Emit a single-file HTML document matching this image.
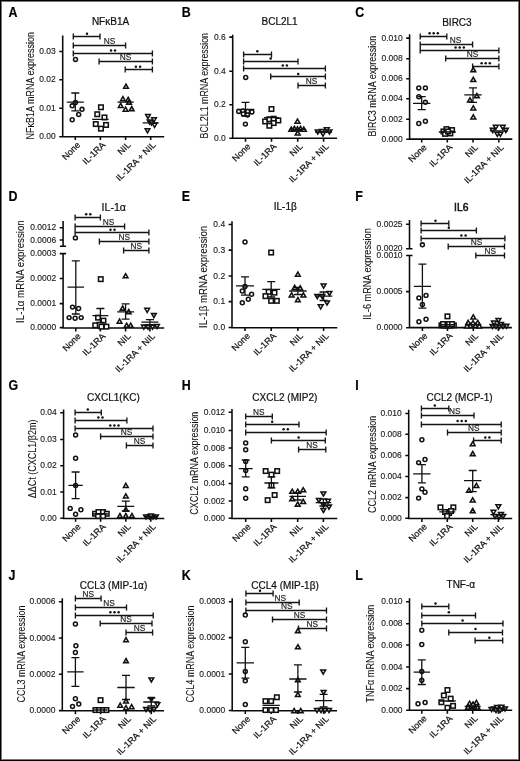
<!DOCTYPE html>
<html><head><meta charset="utf-8"><style>
html,body{margin:0;padding:0;background:#fff;}
svg{display:block;will-change:transform;}
text{font-family:"Liberation Sans", sans-serif;fill:#111;stroke:#111;stroke-width:0.22px;}
.let{font-weight:bold;font-size:13.8px;fill:#000;}
.tit{font-size:10px;}
.tick{font-size:8.5px;fill:#222;stroke:#222;stroke-width:0.14px;}
.yt{font-size:10.3px;stroke-width:0.08px;}
.xl{font-size:9.05px;}
.ns{font-size:8.3px;fill:#1a1a1a;stroke:#1a1a1a;stroke-width:0.15px;}
.st{fill:#111;}
.axis{stroke:#0a0a0a;stroke-width:1.55;fill:none;}
.sig{stroke:#151515;stroke-width:1.35;fill:none;}
.mean{stroke:#111;stroke-width:1.3;fill:none;}
.m{fill:#fff;stroke:#111;stroke-width:1.55;}
</style></head><body>
<svg width="520" height="761" viewBox="0 0 520 761">
<rect x="0.5" y="0.5" width="519" height="760" fill="none" stroke="#000" stroke-width="1"/><rect x="1.5" y="1.5" width="517" height="758" fill="none" stroke="#777" stroke-width="1"/>
<text transform="translate(8.5,16.9) scale(0.9,1)" class="let">A</text>
<text transform="translate(110.5,25.2) scale(1,1.0)" class="tit" text-anchor="middle">NFκB1A</text>
<path d="M62.7 35.6V136.7H164.2M59.300000000000004 51.5H62.7M59.300000000000004 79.8H62.7M59.300000000000004 108.2H62.7M59.300000000000004 136.7H62.7M75.3 136.7V140.1M100.4 136.7V140.1M125.6 136.7V140.1M150.7 136.7V140.1" class="axis"/>
<text transform="translate(55.80,54.10) scale(1,0.98)" class="tick" text-anchor="end">0.03</text>
<text transform="translate(55.80,82.40) scale(1,0.98)" class="tick" text-anchor="end">0.02</text>
<text transform="translate(55.80,110.80) scale(1,0.98)" class="tick" text-anchor="end">0.01</text>
<text transform="translate(55.80,139.30) scale(1,0.98)" class="tick" text-anchor="end">0.00</text>
<text transform="translate(34.1,85.8) rotate(-90)" class="yt" text-anchor="middle" textLength="107.4" lengthAdjust="spacingAndGlyphs">NFκB1A mRNA expression</text>
<text transform="translate(80.9,145.5) scale(1,0.98) rotate(-45)" class="xl" text-anchor="end">None</text>
<text transform="translate(106.0,145.5) scale(1,0.98) rotate(-45)" class="xl" text-anchor="end">IL-1RA</text>
<text transform="translate(131.2,145.5) scale(1,0.98) rotate(-45)" class="xl" text-anchor="end">NIL</text>
<text transform="translate(156.3,145.5) scale(1,0.98) rotate(-45)" class="xl" text-anchor="end">IL-1RA + NIL</text>
<path d="M73.3 33.4V39.6M73.3 36.5H100M100 33.4V39.6M73.3 42.4V48.6M73.3 45.5H125.6M125.6 42.4V48.6M73.3 50.4V56.6M73.3 53.5H152.4M152.4 50.4V56.6M99.1 58.4V64.6M99.1 61.5H152.4M152.4 58.4V64.6M125.2 66.4V72.6M125.2 69.5H152.4M152.4 66.4V72.6" class="sig"/>
<circle cx="87.0" cy="33.7" r="1.25" class="st"/>
<text transform="translate(109.5,44.3) scale(1,1.0)" class="ns" text-anchor="middle">NS</text>
<circle cx="111.0" cy="50.4" r="1.25" class="st"/>
<circle cx="115.0" cy="50.4" r="1.25" class="st"/>
<text transform="translate(125.6,60.3) scale(1,1.0)" class="ns" text-anchor="middle">NS</text>
<circle cx="135.9" cy="66.8" r="1.25" class="st"/>
<circle cx="140.1" cy="66.8" r="1.25" class="st"/>
<g class="m"><circle cx="75.5" cy="59.4" r="1.95"/><circle cx="75.5" cy="102.5" r="1.95"/><circle cx="72.2" cy="105.8" r="1.95"/><circle cx="82.0" cy="109.3" r="1.95"/><circle cx="78.7" cy="114.5" r="1.95"/><circle cx="72.2" cy="119.7" r="1.95"/><rect x="98.7" y="105.0" width="4.5" height="4.5"/><rect x="95.0" y="112.0" width="4.5" height="4.5"/><rect x="102.2" y="115.2" width="4.5" height="4.5"/><rect x="93.5" y="121.8" width="4.5" height="4.5"/><rect x="103.8" y="122.7" width="4.5" height="4.5"/><rect x="98.7" y="126.4" width="4.5" height="4.5"/><path d="M126.0 84.2L128.3 88.3H123.7Z"/><path d="M122.9 96.7L125.2 100.8H120.6Z"/><path d="M128.2 97.3L130.5 101.4H125.8Z"/><path d="M129.0 100.0L131.3 104.1H126.7Z"/><path d="M120.7 103.3L123.0 107.4H118.4Z"/><path d="M125.6 107.1L127.9 111.2H123.2Z"/><path d="M131.7 106.5L134.0 110.6H129.3Z"/><path d="M148.0 118.6L150.3 114.5H145.7Z"/><path d="M154.0 121.9L156.3 117.8H151.7Z"/><path d="M149.7 124.1L152.0 120.0H147.3Z"/><path d="M154.6 127.4L156.9 123.3H152.2Z"/><path d="M147.5 132.8L149.8 128.7H145.2Z"/><path d="M151.5 125.0L153.8 120.9H149.2Z"/></g>
<path d="M66.8 102.2H83.8M75.3 93V110.8M71.3 93H79.3M71.3 110.8H79.3M92.2 119.4H108.60000000000001M117.39999999999999 102.2H133.79999999999998M142.7 122.9H158.7" class="mean"/>
<text transform="translate(181.8,16.9) scale(0.9,1)" class="let">B</text>
<text transform="translate(279.6,25.1) scale(1,1.0)" class="tit" text-anchor="middle">BCL2L1</text>
<path d="M232.7 34.8V138.3H337.1M229.29999999999998 37.1H232.7M229.29999999999998 71.2H232.7M229.29999999999998 104.7H232.7M229.29999999999998 138.3H232.7M245.5 138.3V141.70000000000002M271.5 138.3V141.70000000000002M297.7 138.3V141.70000000000002M323.6 138.3V141.70000000000002" class="axis"/>
<text transform="translate(225.80,39.70) scale(1,0.98)" class="tick" text-anchor="end">0.6</text>
<text transform="translate(225.80,73.80) scale(1,0.98)" class="tick" text-anchor="end">0.4</text>
<text transform="translate(225.80,107.30) scale(1,0.98)" class="tick" text-anchor="end">0.2</text>
<text transform="translate(225.80,140.90) scale(1,0.98)" class="tick" text-anchor="end">0.0</text>
<text transform="translate(207.6,85.7) rotate(-90)" class="yt" text-anchor="middle" textLength="105.5" lengthAdjust="spacingAndGlyphs">BCL2L1 mRNA expression</text>
<text transform="translate(251.1,147.1) scale(1,0.98) rotate(-45)" class="xl" text-anchor="end">None</text>
<text transform="translate(277.1,147.1) scale(1,0.98) rotate(-45)" class="xl" text-anchor="end">IL-1RA</text>
<text transform="translate(303.3,147.1) scale(1,0.98) rotate(-45)" class="xl" text-anchor="end">NIL</text>
<text transform="translate(329.2,147.1) scale(1,0.98) rotate(-45)" class="xl" text-anchor="end">IL-1RA + NIL</text>
<path d="M243.6 51.4V57.6M243.6 54.5H271.5M271.5 51.4V57.6M243.6 58.4V64.6M243.6 61.5H298M298 58.4V64.6M243.6 65.4V71.6M243.6 68.5H325.4M325.4 65.4V71.6M270.7 73.4V79.6M270.7 76.5H325.4M325.4 73.4V79.6M298 82.4V88.6M298 85.5H325.4M325.4 82.4V88.6" class="sig"/>
<circle cx="257.3" cy="51.3" r="1.25" class="st"/>
<circle cx="270.7" cy="58.5" r="1.25" class="st"/>
<circle cx="282.8" cy="65.5" r="1.25" class="st"/>
<circle cx="286.9" cy="65.5" r="1.25" class="st"/>
<circle cx="298.2" cy="73.9" r="1.25" class="st"/>
<text transform="translate(311.6,84.3) scale(1,1.0)" class="ns" text-anchor="middle">NS</text>
<g class="m"><circle cx="245.7" cy="77.4" r="1.95"/><circle cx="238.7" cy="111.4" r="1.95"/><circle cx="242.9" cy="110.9" r="1.95"/><circle cx="247.7" cy="111.4" r="1.95"/><circle cx="251.9" cy="111.9" r="1.95"/><circle cx="243.3" cy="114.0" r="1.95"/><circle cx="247.5" cy="114.9" r="1.95"/><circle cx="245.4" cy="124.1" r="1.95"/><rect x="269.2" y="106.8" width="4.5" height="4.5"/><rect x="262.9" y="119.2" width="4.5" height="4.5"/><rect x="267.1" y="117.0" width="4.5" height="4.5"/><rect x="271.4" y="116.5" width="4.5" height="4.5"/><rect x="276.1" y="118.2" width="4.5" height="4.5"/><rect x="271.4" y="120.8" width="4.5" height="4.5"/><rect x="267.1" y="123.5" width="4.5" height="4.5"/><path d="M297.5 119.1L299.9 123.2H295.1Z"/><path d="M291.3 127.1L293.7 131.2H288.9Z"/><path d="M294.4 126.4L296.8 130.5H292.0Z"/><path d="M297.5 126.8L299.9 130.9H295.1Z"/><path d="M300.6 126.4L303.0 130.5H298.2Z"/><path d="M303.8 127.1L306.2 131.2H301.4Z"/><path d="M297.7 130.8L300.1 134.9H295.3Z"/><path d="M317.8 134.0L320.2 129.9H315.4Z"/><path d="M322.0 133.5L324.4 129.4H319.6Z"/><path d="M326.8 131.9L329.2 127.8H324.4Z"/><path d="M329.4 134.0L331.8 129.9H327.0Z"/><path d="M323.0 136.1L325.4 132.0H320.6Z"/></g>
<path d="M236.7 109.3H254.3M245.5 102.4V116M241.5 102.4H249.5M241.5 116H249.5M264.0 117.7H279.0M289.2 129.4H306.2M315.1 132H332.1" class="mean"/>
<text transform="translate(355.2,16.9) scale(0.9,1)" class="let">C</text>
<text transform="translate(456.9,25.8) scale(1,1.0)" class="tit" text-anchor="middle">BIRC3</text>
<path d="M409.6 34.2V139.1H512.3M406.20000000000005 38.1H409.6M406.20000000000005 58.7H409.6M406.20000000000005 78.8H409.6M406.20000000000005 98.7H409.6M406.20000000000005 119.2H409.6M406.20000000000005 139.2H409.6M421.7 139.1V142.5M447.3 139.1V142.5M473 139.1V142.5M498.8 139.1V142.5" class="axis"/>
<text transform="translate(402.70,40.70) scale(1,0.98)" class="tick" text-anchor="end">0.010</text>
<text transform="translate(402.70,61.30) scale(1,0.98)" class="tick" text-anchor="end">0.008</text>
<text transform="translate(402.70,81.40) scale(1,0.98)" class="tick" text-anchor="end">0.006</text>
<text transform="translate(402.70,101.30) scale(1,0.98)" class="tick" text-anchor="end">0.004</text>
<text transform="translate(402.70,121.80) scale(1,0.98)" class="tick" text-anchor="end">0.002</text>
<text transform="translate(402.70,141.80) scale(1,0.98)" class="tick" text-anchor="end">0.000</text>
<text transform="translate(375.9,86.2) rotate(-90)" class="yt" text-anchor="middle" textLength="100.8" lengthAdjust="spacingAndGlyphs">BIRC3 mRNA expression</text>
<text transform="translate(427.3,147.9) scale(1,0.98) rotate(-45)" class="xl" text-anchor="end">None</text>
<text transform="translate(452.9,147.9) scale(1,0.98) rotate(-45)" class="xl" text-anchor="end">IL-1RA</text>
<text transform="translate(478.6,147.9) scale(1,0.98) rotate(-45)" class="xl" text-anchor="end">NIL</text>
<text transform="translate(504.4,147.9) scale(1,0.98) rotate(-45)" class="xl" text-anchor="end">IL-1RA + NIL</text>
<path d="M420.2 33.4V39.6M420.2 36.5H446.8M446.8 33.4V39.6M420.2 41.4V47.6M420.2 44.5H472.6M472.6 41.4V47.6M420.2 47.4V53.6M420.2 50.5H498.9M498.9 47.4V53.6M445.7 55.4V61.6M445.7 58.5H498.9M498.9 55.4V61.6M472.6 63.4V69.6M472.6 66.5H498.9M498.9 63.4V69.6" class="sig"/>
<circle cx="429.6" cy="33.3" r="1.25" class="st"/>
<circle cx="433.7" cy="33.3" r="1.25" class="st"/>
<circle cx="437.8" cy="33.3" r="1.25" class="st"/>
<text transform="translate(455.5,43.3) scale(1,1.0)" class="ns" text-anchor="middle">NS</text>
<circle cx="455.6" cy="47.5" r="1.25" class="st"/>
<circle cx="459.7" cy="47.5" r="1.25" class="st"/>
<circle cx="463.8" cy="47.5" r="1.25" class="st"/>
<text transform="translate(472.5,57.3) scale(1,1.0)" class="ns" text-anchor="middle">NS</text>
<circle cx="481.6" cy="63.2" r="1.25" class="st"/>
<circle cx="485.7" cy="63.2" r="1.25" class="st"/>
<circle cx="489.8" cy="63.2" r="1.25" class="st"/>
<g class="m"><circle cx="418.8" cy="87.9" r="1.95"/><circle cx="425.4" cy="87.9" r="1.95"/><circle cx="418.8" cy="96.7" r="1.95"/><circle cx="425.4" cy="102.3" r="1.95"/><circle cx="418.8" cy="123.5" r="1.95"/><circle cx="425.4" cy="121.2" r="1.95"/><rect x="441.2" y="129.2" width="4.5" height="4.5"/><rect x="444.2" y="126.9" width="4.5" height="4.5"/><rect x="449.8" y="127.8" width="4.5" height="4.5"/><rect x="442.8" y="131.6" width="4.5" height="4.5"/><rect x="448.1" y="131.2" width="4.5" height="4.5"/><rect x="445.8" y="129.2" width="4.5" height="4.5"/><path d="M473.3 67.5L475.7 71.6H470.9Z"/><path d="M473.3 77.4L475.7 81.5H470.9Z"/><path d="M476.8 93.5L479.2 97.6H474.4Z"/><path d="M470.0 97.9L472.4 102.0H467.6Z"/><path d="M473.3 105.8L475.7 109.9H470.9Z"/><path d="M473.3 114.8L475.7 118.9H470.9Z"/><path d="M495.8 129.4L498.2 125.3H493.4Z"/><path d="M502.7 129.4L505.1 125.3H500.3Z"/><path d="M492.7 132.5L495.1 128.4H490.3Z"/><path d="M505.8 132.5L508.2 128.4H503.4Z"/><path d="M497.3 136.3L499.7 132.2H494.9Z"/><path d="M500.4 136.3L502.8 132.2H498.0Z"/></g>
<path d="M413.0 103.3H430.4M421.7 96.7V109.6M417.7 96.7H425.7M417.7 109.6H425.7M438.8 132H455.8M464.3 94.9H481.7M473 87.8V102.3M469 87.8H477M469 102.3H477M489.8 130.8H507.8" class="mean"/>
<text transform="translate(8.5,201.3) scale(0.9,1)" class="let">D</text>
<text transform="translate(113.8,210.9) scale(1,1.0)" class="tit" text-anchor="middle" style="font-size:10.6px">IL-1α</text>
<path d="M63.1 253.6V328.0H164.2M63.1 221.1V246.2M59.9 246.2H66.1M59.9 253.6H66.1M59.7 227.7H63.1M59.7 239.9H63.1M59.7 253.6H63.1M59.7 278.4H63.1M59.7 303.6H63.1M59.7 327.6H63.1M75.8 328.0V331.4M100.4 328.0V331.4M125.6 328.0V331.4M149.9 328.0V331.4" class="axis"/>
<text transform="translate(56.20,230.30) scale(1,0.98)" class="tick" text-anchor="end">0.0012</text>
<text transform="translate(56.20,242.50) scale(1,0.98)" class="tick" text-anchor="end">0.0006</text>
<text transform="translate(56.20,256.20) scale(1,0.98)" class="tick" text-anchor="end">0.0003</text>
<text transform="translate(56.20,281.00) scale(1,0.98)" class="tick" text-anchor="end">0.0002</text>
<text transform="translate(56.20,306.20) scale(1,0.98)" class="tick" text-anchor="end">0.0001</text>
<text transform="translate(56.20,330.20) scale(1,0.98)" class="tick" text-anchor="end">0.0000</text>
<text transform="translate(24.4,271.6) rotate(-90)" class="yt" text-anchor="middle" textLength="102.6" lengthAdjust="spacingAndGlyphs">IL-1α mRNA expression</text>
<text transform="translate(81.4,336.8) scale(1,0.98) rotate(-45)" class="xl" text-anchor="end">None</text>
<text transform="translate(106.0,336.8) scale(1,0.98) rotate(-45)" class="xl" text-anchor="end">IL-1RA</text>
<text transform="translate(131.2,336.8) scale(1,0.98) rotate(-45)" class="xl" text-anchor="end">NIL</text>
<text transform="translate(155.5,336.8) scale(1,0.98) rotate(-45)" class="xl" text-anchor="end">IL-1RA + NIL</text>
<path d="M75.1 214.4V220.6M75.1 217.5H100.4M100.4 214.4V220.6M75.1 223.4V229.6M75.1 226.5H124.6M124.6 223.4V229.6M75.1 229.4V235.6M75.1 232.5H148.9M148.9 229.4V235.6M99.4 238.4V244.6M99.4 241.5H148.9M148.9 238.4V244.6M123.6 247.4V253.6M123.6 250.5H148.9M148.9 247.4V253.6" class="sig"/>
<circle cx="86.2" cy="214.2" r="1.25" class="st"/>
<circle cx="90.3" cy="214.2" r="1.25" class="st"/>
<text transform="translate(108.5,225.3) scale(1,1.0)" class="ns" text-anchor="middle">NS</text>
<circle cx="110.5" cy="229.8" r="1.25" class="st"/>
<circle cx="114.5" cy="229.8" r="1.25" class="st"/>
<text transform="translate(124.2,240.3) scale(1,1.0)" class="ns" text-anchor="middle">NS</text>
<text transform="translate(136.3,249.3) scale(1,1.0)" class="ns" text-anchor="middle">NS</text>
<g class="m"><circle cx="75.4" cy="237.9" r="1.95"/><circle cx="72.5" cy="307.1" r="1.95"/><circle cx="78.6" cy="308.5" r="1.95"/><circle cx="69.1" cy="317.6" r="1.95"/><circle cx="75.1" cy="318.2" r="1.95"/><circle cx="81.2" cy="317.6" r="1.95"/><rect x="98.5" y="276.9" width="4.5" height="4.5"/><rect x="95.8" y="315.4" width="4.5" height="4.5"/><rect x="101.2" y="318.4" width="4.5" height="4.5"/><rect x="93.0" y="323.1" width="4.5" height="4.5"/><rect x="99.2" y="324.4" width="4.5" height="4.5"/><rect x="104.2" y="324.4" width="4.5" height="4.5"/><path d="M125.6 273.7L127.9 277.8H123.2Z"/><path d="M122.6 306.0L124.9 310.1H120.2Z"/><path d="M128.7 309.5L131.0 313.6H126.3Z"/><path d="M119.6 319.1L121.9 323.2H117.2Z"/><path d="M126.6 323.2L128.9 327.3H124.2Z"/><path d="M130.7 323.2L133.0 327.3H128.3Z"/><path d="M147.2 312.4L149.5 308.3H144.8Z"/><path d="M153.9 317.7L156.2 313.6H151.6Z"/><path d="M143.8 329.2L146.2 325.1H141.5Z"/><path d="M148.0 329.2L150.3 325.1H145.7Z"/><path d="M152.5 329.2L154.8 325.1H150.2Z"/><path d="M157.0 328.5L159.3 324.4H154.7Z"/></g>
<path d="M67.5 287.2H84.1M75.8 260.8V314M71.8 260.8H79.8M71.8 314H79.8M92.4 315.7H108.4M100.4 308.5V322.5M96.4 308.5H104.4M96.4 322.5H104.4M117.1 311.9H134.1M125.6 303.9V319.2M121.6 303.9H129.6M121.6 319.2H129.6M141.4 322.2H158.4M149.9 319.6V325M145.9 319.6H153.9M145.9 325H153.9" class="mean"/>
<text transform="translate(181.8,201.3) scale(0.9,1)" class="let">E</text>
<text transform="translate(285.2,209.8) scale(1,1.0)" class="tit" text-anchor="middle">IL-1β</text>
<path d="M232 221.2V327.7H337.3M228.6 224.5H232M228.6 250.1H232M228.6 276H232M228.6 301.6H232M228.6 327.5H232M245 327.7V331.09999999999997M271.2 327.7V331.09999999999997M297.9 327.7V331.09999999999997M323.6 327.7V331.09999999999997" class="axis"/>
<text transform="translate(225.10,227.10) scale(1,0.98)" class="tick" text-anchor="end">0.4</text>
<text transform="translate(225.10,252.70) scale(1,0.98)" class="tick" text-anchor="end">0.3</text>
<text transform="translate(225.10,278.60) scale(1,0.98)" class="tick" text-anchor="end">0.2</text>
<text transform="translate(225.10,304.20) scale(1,0.98)" class="tick" text-anchor="end">0.1</text>
<text transform="translate(225.10,330.10) scale(1,0.98)" class="tick" text-anchor="end">0.0</text>
<text transform="translate(207.3,276.9) rotate(-90)" class="yt" text-anchor="middle" textLength="102.2" lengthAdjust="spacingAndGlyphs">IL-1β mRNA expression</text>
<text transform="translate(250.6,336.5) scale(1,0.98) rotate(-45)" class="xl" text-anchor="end">None</text>
<text transform="translate(276.8,336.5) scale(1,0.98) rotate(-45)" class="xl" text-anchor="end">IL-1RA</text>
<text transform="translate(303.5,336.5) scale(1,0.98) rotate(-45)" class="xl" text-anchor="end">NIL</text>
<text transform="translate(329.2,336.5) scale(1,0.98) rotate(-45)" class="xl" text-anchor="end">IL-1RA + NIL</text>
<g class="m"><circle cx="245.0" cy="242.0" r="1.95"/><circle cx="245.0" cy="286.4" r="1.95"/><circle cx="242.3" cy="291.0" r="1.95"/><circle cx="251.6" cy="294.3" r="1.95"/><circle cx="248.3" cy="299.2" r="1.95"/><circle cx="242.3" cy="302.8" r="1.95"/><rect x="268.9" y="250.3" width="4.5" height="4.5"/><rect x="266.4" y="289.6" width="4.5" height="4.5"/><rect x="272.2" y="290.4" width="4.5" height="4.5"/><rect x="263.2" y="293.9" width="4.5" height="4.5"/><rect x="268.9" y="298.6" width="4.5" height="4.5"/><rect x="274.6" y="298.6" width="4.5" height="4.5"/><path d="M297.9 272.1L300.2 276.2H295.5Z"/><path d="M294.7 285.3L297.1 289.4H292.3Z"/><path d="M300.2 285.8L302.6 289.9H297.8Z"/><path d="M291.6 292.9L294.0 297.0H289.2Z"/><path d="M303.4 292.9L305.8 297.0H301.0Z"/><path d="M297.9 297.6L300.2 301.7H295.5Z"/><path d="M323.6 288.1L326.0 284.0H321.2Z"/><path d="M329.4 295.5L331.8 291.4H327.0Z"/><path d="M317.3 298.7L319.7 294.6H314.9Z"/><path d="M322.3 298.7L324.7 294.6H319.9Z"/><path d="M327.0 305.0L329.4 300.9H324.6Z"/><path d="M320.7 308.9L323.1 304.8H318.3Z"/></g>
<path d="M236 285.8H254M245 276.8V295.1M241 276.8H249M241 295.1H249M262.2 289.4H280.2M271.2 281.7V297M267.2 281.7H275.2M267.2 297H275.2M289.2 291H306.59999999999997M297.9 287.5V294.5M293.9 287.5H301.9M293.9 294.5H301.9M314.90000000000003 296.2H332.3M323.6 292V300.5M319.6 292H327.6M319.6 300.5H327.6" class="mean"/>
<text transform="translate(355.2,201.3) scale(0.9,1)" class="let">F</text>
<text transform="translate(461.2,210.8) scale(1,1.0)" class="tit" text-anchor="middle" style="font-size:10.3px;stroke-width:0.5px">IL6</text>
<path d="M409.5 255.4V327.6H511.9M409.5 220.1V248.8M406.3 248.8H412.5M406.3 255.4H412.5M406.1 224.3H409.5M406.1 248.8H409.5M406.1 255.4H409.5M406.1 291.6H409.5M406.1 327.8H409.5M422.4 327.6V331.0M447.5 327.6V331.0M473.3 327.6V331.0M498.4 327.6V331.0" class="axis"/>
<text transform="translate(402.60,226.90) scale(1,0.98)" class="tick" text-anchor="end">0.0025</text>
<text transform="translate(402.60,251.40) scale(1,0.98)" class="tick" text-anchor="end">0.0020</text>
<text transform="translate(402.60,258.00) scale(1,0.98)" class="tick" text-anchor="end">0.0010</text>
<text transform="translate(402.60,294.20) scale(1,0.98)" class="tick" text-anchor="end">0.0005</text>
<text transform="translate(402.60,330.40) scale(1,0.98)" class="tick" text-anchor="end">0.0000</text>
<text transform="translate(370.8,274) rotate(-90)" class="yt" text-anchor="middle" textLength="91.6" lengthAdjust="spacingAndGlyphs">IL-6 mRNA expression</text>
<text transform="translate(428.0,336.4) scale(1,0.98) rotate(-45)" class="xl" text-anchor="end">None</text>
<text transform="translate(453.1,336.4) scale(1,0.98) rotate(-45)" class="xl" text-anchor="end">IL-1RA</text>
<text transform="translate(478.9,336.4) scale(1,0.98) rotate(-45)" class="xl" text-anchor="end">NIL</text>
<text transform="translate(504.0,336.4) scale(1,0.98) rotate(-45)" class="xl" text-anchor="end">IL-1RA + NIL</text>
<path d="M421.1 220.4V226.6M421.1 223.5H448.8M448.8 220.4V226.6M421.1 227.4V233.6M421.1 230.5H476.4M476.4 227.4V233.6M421.1 235.4V241.6M421.1 238.5H504.9M504.9 235.4V241.6M448.2 243.4V249.6M448.2 246.5H504.5M504.5 243.4V249.6M475.8 252.4V258.6M475.8 255.5H504.5M504.5 252.4V258.6" class="sig"/>
<circle cx="435.5" cy="220.7" r="1.25" class="st"/>
<circle cx="448.8" cy="227.8" r="1.25" class="st"/>
<circle cx="461.4" cy="235.5" r="1.25" class="st"/>
<circle cx="465.6" cy="235.5" r="1.25" class="st"/>
<text transform="translate(476.4,245.3) scale(1,1.0)" class="ns" text-anchor="middle">NS</text>
<text transform="translate(490.2,254.3) scale(1,1.0)" class="ns" text-anchor="middle">NS</text>
<g class="m"><circle cx="422.4" cy="244.8" r="1.95"/><circle cx="418.9" cy="297.9" r="1.95"/><circle cx="426.0" cy="295.4" r="1.95"/><circle cx="422.4" cy="304.5" r="1.95"/><circle cx="418.9" cy="321.7" r="1.95"/><circle cx="426.0" cy="319.2" r="1.95"/><rect x="445.2" y="314.1" width="4.5" height="4.5"/><rect x="439.2" y="323.1" width="4.5" height="4.5"/><rect x="442.2" y="323.4" width="4.5" height="4.5"/><rect x="445.2" y="323.4" width="4.5" height="4.5"/><rect x="448.2" y="323.4" width="4.5" height="4.5"/><rect x="451.6" y="323.1" width="4.5" height="4.5"/><rect x="440.8" y="321.8" width="4.5" height="4.5"/><rect x="446.8" y="321.8" width="4.5" height="4.5"/><rect x="449.8" y="321.8" width="4.5" height="4.5"/><path d="M473.3 314.8L475.7 318.9H470.9Z"/><path d="M468.1 320.3L470.5 324.4H465.8Z"/><path d="M473.0 320.7L475.4 324.8H470.6Z"/><path d="M477.8 320.3L480.2 324.4H475.4Z"/><path d="M470.5 323.5L472.9 327.6H468.1Z"/><path d="M475.5 323.5L477.9 327.6H473.1Z"/><path d="M467.0 323.8L469.4 327.9H464.6Z"/><path d="M479.3 323.8L481.7 327.9H476.9Z"/><path d="M498.4 322.5L500.8 318.4H496.0Z"/><path d="M494.0 325.1L496.4 321.0H491.6Z"/><path d="M492.5 328.5L494.9 324.4H490.1Z"/><path d="M496.0 328.5L498.4 324.4H493.6Z"/><path d="M499.5 328.5L501.9 324.4H497.1Z"/><path d="M503.0 328.5L505.4 324.4H500.6Z"/><path d="M506.5 328.3L508.9 324.2H504.1Z"/><path d="M501.0 326.7L503.4 322.6H498.6Z"/></g>
<path d="M413.79999999999995 286.4H431.0M422.4 264.2V308.2M418.4 264.2H426.4M418.4 308.2H426.4M439.5 324.7H455.5M465.3 324.7H481.3M490.4 325H506.4" class="mean"/>
<text transform="translate(8.5,389.6) scale(0.9,1)" class="let">G</text>
<text transform="translate(113.5,400.5) scale(1,1.0)" class="tit" text-anchor="middle">CXCL1(KC)</text>
<path d="M63.6 409.5V518.4H164.3M60.2 412.8H63.6M60.2 439.4H63.6M60.2 465.7H63.6M60.2 492H63.6M60.2 518.3H63.6M75.6 518.4V521.8M100.6 518.4V521.8M125.8 518.4V521.8M150.8 518.4V521.8" class="axis"/>
<text transform="translate(56.70,415.40) scale(1,0.98)" class="tick" text-anchor="end">0.04</text>
<text transform="translate(56.70,442.00) scale(1,0.98)" class="tick" text-anchor="end">0.03</text>
<text transform="translate(56.70,468.30) scale(1,0.98)" class="tick" text-anchor="end">0.02</text>
<text transform="translate(56.70,494.60) scale(1,0.98)" class="tick" text-anchor="end">0.01</text>
<text transform="translate(56.70,520.90) scale(1,0.98)" class="tick" text-anchor="end">0.00</text>
<text transform="translate(35.5,458.9) rotate(-90)" class="yt" text-anchor="middle" textLength="78.8" lengthAdjust="spacingAndGlyphs">ΔΔCt (CXCL1/β2m)</text>
<text transform="translate(81.2,527.2) scale(1,0.98) rotate(-45)" class="xl" text-anchor="end">None</text>
<text transform="translate(106.2,527.2) scale(1,0.98) rotate(-45)" class="xl" text-anchor="end">IL-1RA</text>
<text transform="translate(131.4,527.2) scale(1,0.98) rotate(-45)" class="xl" text-anchor="end">NIL</text>
<text transform="translate(156.4,527.2) scale(1,0.98) rotate(-45)" class="xl" text-anchor="end">IL-1RA + NIL</text>
<path d="M75.1 409.4V415.6M75.1 412.5H101.3M101.3 409.4V415.6M75.1 417.4V423.6M75.1 420.5H126.9M126.9 417.4V423.6M75.1 425.4V431.6M75.1 428.5H153M153 425.4V431.6M100.6 433.4V439.6M100.6 436.5H153M153 433.4V439.6M126.4 442.4V448.6M126.4 445.5H153M153 442.4V448.6" class="sig"/>
<circle cx="87.8" cy="409.4" r="1.25" class="st"/>
<circle cx="98.4" cy="417.4" r="1.25" class="st"/>
<circle cx="102.5" cy="417.4" r="1.25" class="st"/>
<circle cx="110.3" cy="425.5" r="1.25" class="st"/>
<circle cx="114.4" cy="425.5" r="1.25" class="st"/>
<circle cx="118.5" cy="425.5" r="1.25" class="st"/>
<text transform="translate(126.6,435.3) scale(1,1.0)" class="ns" text-anchor="middle">NS</text>
<text transform="translate(139.5,444.3) scale(1,1.0)" class="ns" text-anchor="middle">NS</text>
<g class="m"><circle cx="75.6" cy="435.0" r="1.95"/><circle cx="75.6" cy="458.3" r="1.95"/><circle cx="75.6" cy="485.4" r="1.95"/><circle cx="70.2" cy="508.4" r="1.95"/><circle cx="80.9" cy="509.7" r="1.95"/><circle cx="75.6" cy="514.2" r="1.95"/><rect x="92.8" y="511.5" width="4.5" height="4.5"/><rect x="96.2" y="509.8" width="4.5" height="4.5"/><rect x="100.8" y="509.8" width="4.5" height="4.5"/><rect x="104.5" y="511.5" width="4.5" height="4.5"/><rect x="95.8" y="513.8" width="4.5" height="4.5"/><rect x="100.8" y="513.8" width="4.5" height="4.5"/><path d="M125.8 483.3L128.2 487.4H123.5Z"/><path d="M125.8 493.8L128.2 497.9H123.5Z"/><path d="M125.8 507.2L128.2 511.3H123.5Z"/><path d="M119.9 513.5L122.2 517.6H117.6Z"/><path d="M125.8 513.5L128.2 517.6H123.5Z"/><path d="M131.9 513.5L134.2 517.6H129.6Z"/><path d="M146.0 519.0L148.3 514.9H143.7Z"/><path d="M149.5 519.0L151.8 514.9H147.2Z"/><path d="M153.0 519.0L155.3 514.9H150.7Z"/><path d="M156.0 519.0L158.3 514.9H153.7Z"/><path d="M151.0 518.0L153.3 513.9H148.7Z"/></g>
<path d="M68.39999999999999 485.4H82.8M75.6 472V498.6M71.6 472H79.6M71.6 498.6H79.6M93.1 514H108.1M117.3 506.4H134.3M125.8 501.2V511M121.8 501.2H129.8M121.8 511H129.8M143.8 516.3H157.8" class="mean"/>
<text transform="translate(181.8,389.6) scale(0.9,1)" class="let">H</text>
<text transform="translate(284.8,401.2) scale(1,1.0)" class="tit" text-anchor="middle">CXCL2 (MIP2)</text>
<path d="M232 409V518.5H337.3M228.6 412.3H232M228.6 430.4H232M228.6 448H232M228.6 465.7H232M228.6 483.5H232M228.6 501H232M228.6 518.3H232M245.7 518.5V521.9M271.4 518.5V521.9M297.7 518.5V521.9M323.4 518.5V521.9" class="axis"/>
<text transform="translate(225.10,414.90) scale(1,0.98)" class="tick" text-anchor="end">0.012</text>
<text transform="translate(225.10,433.00) scale(1,0.98)" class="tick" text-anchor="end">0.010</text>
<text transform="translate(225.10,450.60) scale(1,0.98)" class="tick" text-anchor="end">0.008</text>
<text transform="translate(225.10,468.30) scale(1,0.98)" class="tick" text-anchor="end">0.006</text>
<text transform="translate(225.10,486.10) scale(1,0.98)" class="tick" text-anchor="end">0.004</text>
<text transform="translate(225.10,503.60) scale(1,0.98)" class="tick" text-anchor="end">0.002</text>
<text transform="translate(225.10,520.90) scale(1,0.98)" class="tick" text-anchor="end">0.000</text>
<text transform="translate(198.4,463.2) rotate(-90)" class="yt" text-anchor="middle" textLength="103.1" lengthAdjust="spacingAndGlyphs">CXCL2 mRNA expression</text>
<text transform="translate(251.3,527.3) scale(1,0.98) rotate(-45)" class="xl" text-anchor="end">None</text>
<text transform="translate(277.0,527.3) scale(1,0.98) rotate(-45)" class="xl" text-anchor="end">IL-1RA</text>
<text transform="translate(303.3,527.3) scale(1,0.98) rotate(-45)" class="xl" text-anchor="end">NIL</text>
<text transform="translate(329.0,527.3) scale(1,0.98) rotate(-45)" class="xl" text-anchor="end">IL-1RA + NIL</text>
<path d="M245.7 413.4V419.6M245.7 416.5H272.3M272.3 413.4V419.6M245.7 421.4V427.6M245.7 424.5H299M299 421.4V427.6M245.7 429.4V435.6M245.7 432.5H326.2M326.2 429.4V435.6M271.4 437.4V443.6M271.4 440.5H325.3M325.3 437.4V443.6M298.6 446.4V452.6M298.6 449.5H325.8M325.8 446.4V452.6" class="sig"/>
<text transform="translate(258.7,415.3) scale(1,1.0)" class="ns" text-anchor="middle">NS</text>
<circle cx="272.2" cy="421.7" r="1.25" class="st"/>
<circle cx="283.6" cy="429.3" r="1.25" class="st"/>
<circle cx="287.8" cy="429.3" r="1.25" class="st"/>
<circle cx="298.6" cy="437.4" r="1.25" class="st"/>
<text transform="translate(312,448.3) scale(1,1.0)" class="ns" text-anchor="middle">NS</text>
<g class="m"><circle cx="245.7" cy="443.0" r="1.95"/><circle cx="245.7" cy="449.8" r="1.95"/><circle cx="245.7" cy="461.6" r="1.95"/><circle cx="245.7" cy="470.6" r="1.95"/><circle cx="245.7" cy="488.7" r="1.95"/><circle cx="245.7" cy="498.2" r="1.95"/><rect x="263.4" y="468.8" width="4.5" height="4.5"/><rect x="274.9" y="468.8" width="4.5" height="4.5"/><rect x="269.2" y="472.4" width="4.5" height="4.5"/><rect x="269.2" y="483.1" width="4.5" height="4.5"/><rect x="272.4" y="492.8" width="4.5" height="4.5"/><rect x="265.4" y="497.9" width="4.5" height="4.5"/><path d="M292.2 489.2L294.6 493.3H289.8Z"/><path d="M297.7 489.2L300.1 493.3H295.3Z"/><path d="M303.2 487.7L305.6 491.8H300.8Z"/><path d="M292.2 496.5L294.6 500.6H289.8Z"/><path d="M297.7 502.0L300.1 506.1H295.3Z"/><path d="M303.2 499.3L305.6 503.4H300.8Z"/><path d="M323.4 496.0L325.8 491.9H321.0Z"/><path d="M318.9 502.5L321.2 498.4H316.5Z"/><path d="M328.0 503.4L330.4 499.3H325.6Z"/><path d="M323.4 507.0L325.8 502.9H321.0Z"/><path d="M329.0 509.2L331.4 505.1H326.6Z"/><path d="M323.4 512.5L325.8 508.4H321.0Z"/></g>
<path d="M238.7 468.7H252.7M245.7 460V476.9M241.7 460H249.7M241.7 476.9H249.7M264.4 483H278.4M271.4 476.9V487.9M267.4 476.9H275.4M267.4 487.9H275.4M289.4 496.3H306.0M297.7 493V500M293.7 493H301.7M293.7 500H301.7M315.59999999999997 502.7H331.2M323.4 499V506M319.4 499H327.4M319.4 506H327.4" class="mean"/>
<text transform="translate(355.2,389.6) scale(0.9,1)" class="let">I</text>
<text transform="translate(459.5,401.2) scale(1,1.0)" class="tit" text-anchor="middle">CCL2 (MCP-1)</text>
<path d="M408.7 409.8V518.5H512.2M405.3 413.5H408.7M405.3 434.3H408.7M405.3 455.4H408.7M405.3 476.4H408.7M405.3 497.6H408.7M405.3 518.3H408.7M421.9 518.5V521.9M447.3 518.5V521.9M472.7 518.5V521.9M498.4 518.5V521.9" class="axis"/>
<text transform="translate(401.80,416.10) scale(1,0.98)" class="tick" text-anchor="end">0.010</text>
<text transform="translate(401.80,436.90) scale(1,0.98)" class="tick" text-anchor="end">0.008</text>
<text transform="translate(401.80,458.00) scale(1,0.98)" class="tick" text-anchor="end">0.006</text>
<text transform="translate(401.80,479.00) scale(1,0.98)" class="tick" text-anchor="end">0.004</text>
<text transform="translate(401.80,500.20) scale(1,0.98)" class="tick" text-anchor="end">0.002</text>
<text transform="translate(401.80,520.90) scale(1,0.98)" class="tick" text-anchor="end">0.000</text>
<text transform="translate(375.9,464.4) rotate(-90)" class="yt" text-anchor="middle" textLength="97.3" lengthAdjust="spacingAndGlyphs">CCL2 mRNA expression</text>
<text transform="translate(427.5,527.3) scale(1,0.98) rotate(-45)" class="xl" text-anchor="end">None</text>
<text transform="translate(452.9,527.3) scale(1,0.98) rotate(-45)" class="xl" text-anchor="end">IL-1RA</text>
<text transform="translate(478.3,527.3) scale(1,0.98) rotate(-45)" class="xl" text-anchor="end">NIL</text>
<text transform="translate(504.0,527.3) scale(1,0.98) rotate(-45)" class="xl" text-anchor="end">IL-1RA + NIL</text>
<path d="M421.4 405.4V411.6M421.4 408.5H448.8M448.8 405.4V411.6M421.4 412.4V418.6M421.4 415.5H474M474 412.4V418.6M421.4 421.4V427.6M421.4 424.5H501.2M501.2 421.4V427.6M447.5 429.4V435.6M447.5 432.5H501.2M501.2 429.4V435.6M473.6 437.4V443.6M473.6 440.5H501.2M501.2 437.4V443.6" class="sig"/>
<circle cx="434.8" cy="405.4" r="1.25" class="st"/>
<text transform="translate(454.7,414.3) scale(1,1.0)" class="ns" text-anchor="middle">NS</text>
<circle cx="457.6" cy="420.9" r="1.25" class="st"/>
<circle cx="461.7" cy="420.9" r="1.25" class="st"/>
<circle cx="465.8" cy="420.9" r="1.25" class="st"/>
<text transform="translate(473.8,431.3) scale(1,1.0)" class="ns" text-anchor="middle">NS</text>
<circle cx="485.3" cy="437.4" r="1.25" class="st"/>
<circle cx="489.4" cy="437.4" r="1.25" class="st"/>
<g class="m"><circle cx="421.9" cy="439.8" r="1.95"/><circle cx="418.6" cy="462.6" r="1.95"/><circle cx="425.0" cy="459.5" r="1.95"/><circle cx="421.9" cy="488.9" r="1.95"/><circle cx="425.0" cy="492.2" r="1.95"/><circle cx="418.6" cy="498.1" r="1.95"/><rect x="438.2" y="505.1" width="4.5" height="4.5"/><rect x="451.1" y="505.1" width="4.5" height="4.5"/><rect x="442.8" y="509.8" width="4.5" height="4.5"/><rect x="446.8" y="510.8" width="4.5" height="4.5"/><rect x="444.8" y="513.8" width="4.5" height="4.5"/><rect x="448.8" y="508.8" width="4.5" height="4.5"/><path d="M472.7 441.7L475.1 445.8H470.3Z"/><path d="M472.7 451.5L475.1 455.6H470.3Z"/><path d="M476.4 483.3L478.8 487.4H474.0Z"/><path d="M469.0 488.2L471.4 492.3H466.6Z"/><path d="M472.7 497.8L475.1 501.9H470.3Z"/><path d="M472.7 508.5L475.1 512.6H470.3Z"/><path d="M498.4 508.9L500.8 504.8H496.0Z"/><path d="M493.5 514.4L495.9 510.3H491.1Z"/><path d="M495.0 518.5L497.4 514.4H492.6Z"/><path d="M499.0 519.0L501.4 514.9H496.6Z"/><path d="M503.0 518.5L505.4 514.4H500.6Z"/><path d="M501.0 516.5L503.4 512.4H498.6Z"/></g>
<path d="M413.2 473.8H430.59999999999997M421.9 464.6V482.8M417.9 464.6H425.9M417.9 482.8H425.9M439.3 511.9H455.3M464.0 480.6H481.4M472.7 470.5V491.7M468.7 470.5H476.7M468.7 491.7H476.7M490.4 514.7H506.4" class="mean"/>
<text transform="translate(8.5,580.3) scale(0.9,1)" class="let">J</text>
<text transform="translate(113.5,588.6) scale(1,1.0)" class="tit" text-anchor="middle">CCL3 (MIP-1α)</text>
<path d="M62.3 598.3V710.8H164M58.9 601.8H62.3M58.9 638H62.3M58.9 674.2H62.3M58.9 710.6H62.3M75.4 710.8V714.1999999999999M100.6 710.8V714.1999999999999M126 710.8V714.1999999999999M151.3 710.8V714.1999999999999" class="axis"/>
<text transform="translate(55.40,604.40) scale(1,0.98)" class="tick" text-anchor="end">0.0006</text>
<text transform="translate(55.40,640.60) scale(1,0.98)" class="tick" text-anchor="end">0.0004</text>
<text transform="translate(55.40,676.80) scale(1,0.98)" class="tick" text-anchor="end">0.0002</text>
<text transform="translate(55.40,713.20) scale(1,0.98)" class="tick" text-anchor="end">0.0000</text>
<text transform="translate(25.1,654) rotate(-90)" class="yt" text-anchor="middle" textLength="96.9" lengthAdjust="spacingAndGlyphs">CCL3 mRNA expression</text>
<text transform="translate(81.0,719.6) scale(1,0.98) rotate(-45)" class="xl" text-anchor="end">None</text>
<text transform="translate(106.2,719.6) scale(1,0.98) rotate(-45)" class="xl" text-anchor="end">IL-1RA</text>
<text transform="translate(131.6,719.6) scale(1,0.98) rotate(-45)" class="xl" text-anchor="end">NIL</text>
<text transform="translate(156.9,719.6) scale(1,0.98) rotate(-45)" class="xl" text-anchor="end">IL-1RA + NIL</text>
<path d="M75.4 595.4V601.6M75.4 598.5H101.1M101.1 595.4V601.6M75.4 604.4V610.6M75.4 607.5H126.5M126.5 604.4V610.6M75.4 612.4V618.6M75.4 615.5H153.2M153.2 612.4V618.6M100.2 620.4V626.6M100.2 623.5H152M152 620.4V626.6M126 629.4V635.6M126 632.5H152.6M152.6 629.4V635.6" class="sig"/>
<text transform="translate(88.2,597.3) scale(1,1.0)" class="ns" text-anchor="middle">NS</text>
<text transform="translate(109.1,606.3) scale(1,1.0)" class="ns" text-anchor="middle">NS</text>
<circle cx="110.4" cy="612.2" r="1.25" class="st"/>
<circle cx="114.5" cy="612.2" r="1.25" class="st"/>
<circle cx="118.6" cy="612.2" r="1.25" class="st"/>
<text transform="translate(126,622.3) scale(1,1.0)" class="ns" text-anchor="middle">NS</text>
<text transform="translate(139.6,631.3) scale(1,1.0)" class="ns" text-anchor="middle">NS</text>
<g class="m"><circle cx="75.4" cy="624.0" r="1.95"/><circle cx="75.9" cy="645.7" r="1.95"/><circle cx="75.4" cy="652.5" r="1.95"/><circle cx="75.4" cy="698.7" r="1.95"/><circle cx="72.5" cy="706.4" r="1.95"/><circle cx="78.8" cy="704.1" r="1.95"/><rect x="98.3" y="697.9" width="4.5" height="4.5"/><rect x="93.2" y="707.8" width="4.5" height="4.5"/><rect x="96.8" y="707.8" width="4.5" height="4.5"/><rect x="100.8" y="707.8" width="4.5" height="4.5"/><rect x="104.2" y="707.8" width="4.5" height="4.5"/><path d="M126.0 637.6L128.3 641.7H123.7Z"/><path d="M126.0 658.5L128.3 662.6H123.7Z"/><path d="M126.0 698.9L128.3 703.0H123.7Z"/><path d="M120.2 703.1L122.5 707.2H117.9Z"/><path d="M126.0 705.6L128.3 709.7H123.7Z"/><path d="M131.7 704.6L134.0 708.7H129.3Z"/><path d="M151.3 682.0L153.7 677.9H149.0Z"/><path d="M157.4 706.8L159.8 702.7H155.1Z"/><path d="M151.3 701.6L153.7 697.5H149.0Z"/><path d="M146.0 711.5L148.3 707.4H143.7Z"/><path d="M150.0 712.0L152.3 707.9H147.7Z"/><path d="M154.0 711.5L156.3 707.4H151.7Z"/></g>
<path d="M67.2 671.8H83.60000000000001M75.4 657.6V686.4M71.4 657.6H79.4M71.4 686.4H79.4M93.6 710H107.6M117.3 687.5H134.7M126 675.3V699.5M122 675.3H130M122 699.5H130M143.3 702H159.3M151.3 698V706M147.3 698H155.3M147.3 706H155.3" class="mean"/>
<text transform="translate(181.8,580.3) scale(0.9,1)" class="let">K</text>
<text transform="translate(285,588.7) scale(1,1.0)" class="tit" text-anchor="middle">CCL4 (MIP-1β)</text>
<path d="M232.2 598.3V710.7H337M228.79999999999998 601.8H232.2M228.79999999999998 637.6H232.2M228.79999999999998 674H232.2M228.79999999999998 710.4H232.2M245.3 710.7V714.1M271.2 710.7V714.1M297.9 710.7V714.1M323.6 710.7V714.1" class="axis"/>
<text transform="translate(225.30,604.40) scale(1,0.98)" class="tick" text-anchor="end">0.0003</text>
<text transform="translate(225.30,640.20) scale(1,0.98)" class="tick" text-anchor="end">0.0002</text>
<text transform="translate(225.30,676.60) scale(1,0.98)" class="tick" text-anchor="end">0.0001</text>
<text transform="translate(225.30,713.00) scale(1,0.98)" class="tick" text-anchor="end">0.0000</text>
<text transform="translate(193.9,654) rotate(-90)" class="yt" text-anchor="middle" textLength="96.9" lengthAdjust="spacingAndGlyphs">CCL4 mRNA expression</text>
<text transform="translate(250.9,719.5) scale(1,0.98) rotate(-45)" class="xl" text-anchor="end">None</text>
<text transform="translate(276.8,719.5) scale(1,0.98) rotate(-45)" class="xl" text-anchor="end">IL-1RA</text>
<text transform="translate(303.5,719.5) scale(1,0.98) rotate(-45)" class="xl" text-anchor="end">NIL</text>
<text transform="translate(329.2,719.5) scale(1,0.98) rotate(-45)" class="xl" text-anchor="end">IL-1RA + NIL</text>
<path d="M245.9 590.4V596.6M245.9 593.5H273.1M273.1 590.4V596.6M245.9 599.4V605.6M245.9 602.5H299.2M299.2 599.4V605.6M245.9 607.4V613.6M245.9 610.5H326.5M326.5 607.4V613.6M272.5 616.4V622.6M272.5 619.5H326.5M326.5 616.4V622.6M298.5 625.4V631.6M298.5 628.5H326.5M326.5 625.4V631.6" class="sig"/>
<circle cx="260.0" cy="590.7" r="1.25" class="st"/>
<text transform="translate(280.3,601.3) scale(1,1.0)" class="ns" text-anchor="middle">NS</text>
<text transform="translate(286.7,609.3) scale(1,1.0)" class="ns" text-anchor="middle">NS</text>
<text transform="translate(299.5,618.3) scale(1,1.0)" class="ns" text-anchor="middle">NS</text>
<text transform="translate(312.3,627.3) scale(1,1.0)" class="ns" text-anchor="middle">NS</text>
<g class="m"><circle cx="245.3" cy="615.1" r="1.95"/><circle cx="245.3" cy="641.7" r="1.95"/><circle cx="245.3" cy="671.4" r="1.95"/><circle cx="245.3" cy="680.8" r="1.95"/><circle cx="245.3" cy="704.5" r="1.95"/><rect x="274.6" y="695.0" width="4.5" height="4.5"/><rect x="263.2" y="698.9" width="4.5" height="4.5"/><rect x="268.9" y="698.9" width="4.5" height="4.5"/><rect x="263.2" y="707.8" width="4.5" height="4.5"/><rect x="268.9" y="707.8" width="4.5" height="4.5"/><rect x="273.8" y="707.8" width="4.5" height="4.5"/><path d="M297.9 628.5L300.2 632.6H295.5Z"/><path d="M297.9 644.7L300.2 648.8H295.5Z"/><path d="M297.9 677.7L300.2 681.8H295.5Z"/><path d="M297.9 692.3L300.2 696.4H295.5Z"/><path d="M294.1 708.5L296.5 712.6H291.8Z"/><path d="M300.7 708.5L303.1 712.6H298.3Z"/><path d="M323.2 674.1L325.6 670.0H320.8Z"/><path d="M323.6 694.5L326.0 690.4H321.2Z"/><path d="M317.0 712.5L319.4 708.4H314.6Z"/><path d="M321.0 712.5L323.4 708.4H318.6Z"/><path d="M325.0 712.5L327.4 708.4H322.6Z"/><path d="M329.0 712.5L331.4 708.4H326.6Z"/></g>
<path d="M236.60000000000002 662.8H254.0M245.3 647.4V678.1M241.3 647.4H249.3M241.3 678.1H249.3M262.59999999999997 705.3H279.8M289.29999999999995 679H306.5M297.9 664.9V692M293.9 664.9H301.9M293.9 692H301.9M315.0 700.7H332.20000000000005M323.6 694.3V707M319.6 694.3H327.6M319.6 707H327.6" class="mean"/>
<text transform="translate(355.2,580.3) scale(0.9,1)" class="let">L</text>
<text transform="translate(460.8,588.4) scale(1,1.0)" class="tit" text-anchor="middle">TNF-α</text>
<path d="M409.5 598.2V710.3H512.2M406.1 601.8H409.5M406.1 623.7H409.5M406.1 645H409.5M406.1 666.9H409.5M406.1 688.6H409.5M406.1 710.2H409.5M421.8 710.3V713.6999999999999M447.4 710.3V713.6999999999999M472.7 710.3V713.6999999999999M498.4 710.3V713.6999999999999" class="axis"/>
<text transform="translate(402.60,604.40) scale(1,0.98)" class="tick" text-anchor="end">0.010</text>
<text transform="translate(402.60,626.30) scale(1,0.98)" class="tick" text-anchor="end">0.008</text>
<text transform="translate(402.60,647.60) scale(1,0.98)" class="tick" text-anchor="end">0.006</text>
<text transform="translate(402.60,669.50) scale(1,0.98)" class="tick" text-anchor="end">0.004</text>
<text transform="translate(402.60,691.20) scale(1,0.98)" class="tick" text-anchor="end">0.002</text>
<text transform="translate(402.60,712.80) scale(1,0.98)" class="tick" text-anchor="end">0.000</text>
<text transform="translate(374.2,653.6) rotate(-90)" class="yt" text-anchor="middle" textLength="97.8" lengthAdjust="spacingAndGlyphs">TNFα mRNA expression</text>
<text transform="translate(427.4,719.1) scale(1,0.98) rotate(-45)" class="xl" text-anchor="end">None</text>
<text transform="translate(453.0,719.1) scale(1,0.98) rotate(-45)" class="xl" text-anchor="end">IL-1RA</text>
<text transform="translate(478.3,719.1) scale(1,0.98) rotate(-45)" class="xl" text-anchor="end">NIL</text>
<text transform="translate(504.0,719.1) scale(1,0.98) rotate(-45)" class="xl" text-anchor="end">IL-1RA + NIL</text>
<path d="M421.8 603.4V609.6M421.8 606.5H448.8M448.8 603.4V609.6M421.8 612.4V618.6M421.8 615.5H475.5M475.5 612.4V618.6M421.8 620.4V626.6M421.8 623.5H503M503 620.4V626.6M448.8 629.4V635.6M448.8 632.5H502.5M502.5 629.4V635.6M475.1 637.4V643.6M475.1 640.5H502.7M502.7 637.4V643.6" class="sig"/>
<circle cx="435.5" cy="603.6" r="1.25" class="st"/>
<circle cx="448.8" cy="612.2" r="1.25" class="st"/>
<circle cx="462.6" cy="620.6" r="1.25" class="st"/>
<circle cx="475.5" cy="628.9" r="1.25" class="st"/>
<circle cx="489.3" cy="637.7" r="1.25" class="st"/>
<g class="m"><circle cx="421.8" cy="630.2" r="1.95"/><circle cx="421.8" cy="644.5" r="1.95"/><circle cx="421.8" cy="671.6" r="1.95"/><circle cx="421.8" cy="680.3" r="1.95"/><circle cx="418.0" cy="703.7" r="1.95"/><circle cx="425.1" cy="702.5" r="1.95"/><rect x="445.2" y="687.8" width="4.5" height="4.5"/><rect x="441.6" y="693.2" width="4.5" height="4.5"/><rect x="448.4" y="696.4" width="4.5" height="4.5"/><rect x="439.1" y="700.0" width="4.5" height="4.5"/><rect x="450.8" y="703.6" width="4.5" height="4.5"/><rect x="445.2" y="705.5" width="4.5" height="4.5"/><path d="M469.6 701.2L472.0 705.3H467.2Z"/><path d="M476.4 700.3L478.8 704.4H474.0Z"/><path d="M471.0 705.0L473.4 709.1H468.6Z"/><path d="M474.5 705.0L476.9 709.1H472.1Z"/><path d="M472.7 703.5L475.1 707.6H470.3Z"/><path d="M468.0 705.0L470.4 709.1H465.6Z"/><path d="M477.5 705.0L479.9 709.1H475.1Z"/><path d="M473.0 702.0L475.4 706.1H470.6Z"/><path d="M494.0 711.0L496.4 706.9H491.6Z"/><path d="M498.4 710.5L500.8 706.4H496.0Z"/><path d="M502.0 711.0L504.4 706.9H499.6Z"/><path d="M496.0 712.5L498.4 708.4H493.6Z"/><path d="M500.0 712.5L502.4 708.4H497.6Z"/><path d="M491.5 711.5L493.9 707.4H489.1Z"/><path d="M505.0 711.0L507.4 706.9H502.6Z"/><path d="M497.0 709.5L499.4 705.4H494.6Z"/><path d="M501.5 709.3L503.9 705.2H499.1Z"/></g>
<path d="M413.6 672.1H430.0M421.8 659.8V684.5M417.8 659.8H425.8M417.8 684.5H425.8M439.09999999999997 701H455.7M464.7 706.5H480.7M491.4 708.5H505.4" class="mean"/>
</svg>
</body></html>
